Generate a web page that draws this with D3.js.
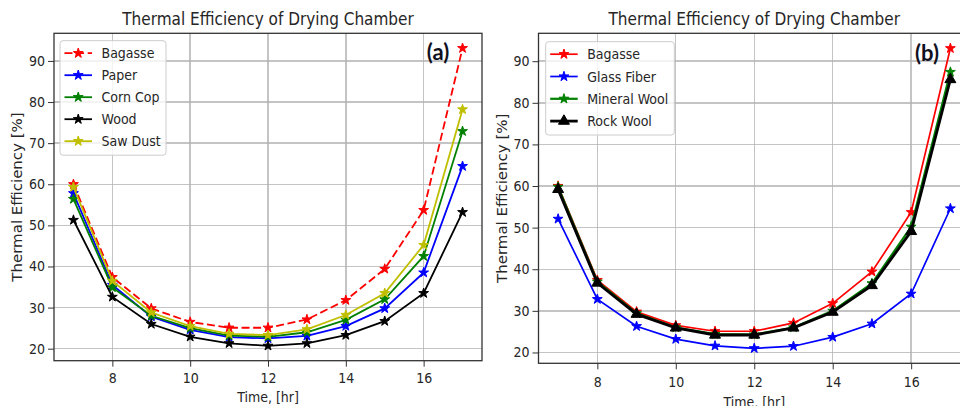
<!DOCTYPE html>
<html>
<head>
<meta charset="utf-8">
<title>Thermal Efficiency of Drying Chamber</title>
<style>
body { margin: 0; background: white; }
text { font-family: "DejaVu Sans", sans-serif; fill: #262626; }
.grid line { stroke: #b0b0b0; stroke-opacity: 0.75; stroke-width: 1.4; shape-rendering: crispEdges; }
.frame { fill: none; stroke: #333; stroke-width: 1.3; }
.legend rect { fill: white; fill-opacity: 0.8; stroke: #cccccc; stroke-width: 1; }
.tag { font-family: Lato, "Open Sans", sans-serif; font-weight: bold; fill: #10101e; }
</style>
</head>
<body>
<div id="chart"></div>
<script src="https://cdn.jsdelivr.net/npm/d3@7"></script>
<script>
var hours = [7, 8, 9, 10, 11, 12, 13, 14, 15, 16, 17];
var xTicks = [8, 10, 12, 14, 16];
var yTicks = [20, 30, 40, 50, 60, 70, 80, 90];

// panel (a) - drying material
var bagasse = [60.0, 37.4, 29.8, 26.5, 25.1, 25.1, 27.1, 31.8, 39.4, 53.7, 93.1];
var paper   = [57.8, 35.5, 27.8, 24.6, 22.8, 22.5, 23.1, 25.5, 29.8, 38.5, 64.4];
var cornCop = [56.4, 34.9, 28.0, 25.0, 23.2, 22.9, 24.0, 27.0, 32.0, 42.5, 72.9];
var wood    = [51.3, 32.6, 26.0, 22.9, 21.3, 20.7, 21.3, 23.3, 26.7, 33.5, 53.2];
var sawDust = [59.3, 36.5, 28.8, 25.5, 23.6, 23.3, 24.7, 28.2, 33.5, 45.2, 78.2];

// panel (b) - insulation
var glassFiber  = [52.1, 32.8, 26.3, 23.2, 21.6, 21.0, 21.5, 23.7, 26.9, 34.1, 54.6];
var mineralWool = [59.8, 37.0, 29.4, 26.0, 24.4, 24.3, 26.0, 30.0, 36.6, 50.2, 87.4];
var rockWool    = [59.2, 36.7, 29.2, 25.9, 24.2, 24.2, 25.9, 29.7, 36.1, 49.1, 85.6];

var titleText = "Thermal Efficiency of Drying Chamber";
var xLabel = "Time, [hr]";
var yLabel = "Thermal Efficiency [%]";

var SX = 0.9; // horizontal squeeze of the source picture

var svg = d3.select("#chart")
    .append("svg")
    .attr("width", 960)
    .attr("height", 406);

function padded(seriesList) {
    var all = d3.merge(seriesList);
    var lo = d3.min(all), hi = d3.max(all);
    var m = (hi - lo) * 0.05;
    return [lo - m, hi + m];
}

function hText(g, x, y, str, size, anchor) {
    return g.append("text")
        .attr("transform", "translate(" + x + "," + y + ") scale(" + SX + ",1)")
        .attr("font-size", size)
        .attr("text-anchor", anchor || "middle")
        .text(str);
}

function drawPanel(p) {
    var g = svg.append("g");
    var x = d3.scaleLinear().domain([6.5, 17.5]).range([p.left, p.right]);
    var y = d3.scaleLinear()
        .domain(padded(p.series.map(function(s) { return s.values; })))
        .range([p.bottom, p.top]);

    var grid = g.append("g").attr("class", "grid");
    grid.selectAll("line.v").data(xTicks).enter().append("line")
        .attr("class", "v")
        .attr("x1", function(d) { return x(d); })
        .attr("x2", function(d) { return x(d); })
        .attr("y1", p.top)
        .attr("y2", p.bottom);
    grid.selectAll("line.h").data(yTicks).enter().append("line")
        .attr("class", "h")
        .attr("x1", p.left)
        .attr("x2", p.right)
        .attr("y1", function(d) { return y(d); })
        .attr("y2", function(d) { return y(d); });

    var xaxis = g.append("g")
        .attr("transform", "translate(0," + p.bottom + ")")
        .style("color", "#333")
        .call(d3.axisBottom(x).tickValues(xTicks).tickSize(6).tickPadding(p.xpad));
    var yaxis = g.append("g")
        .attr("transform", "translate(" + p.left + ",0)")
        .style("color", "#333")
        .call(d3.axisLeft(y).tickValues(yTicks).tickSize(6).tickPadding(3));
    [xaxis, yaxis].forEach(function(a) {
        a.select(".domain").remove();
        a.attr("font-size", 14).attr("font-family", "DejaVu Sans");
        a.selectAll("text")
            .attr("fill", "#262626")
            .attr("transform", "scale(" + SX + ",1)");
    });
    yaxis.selectAll("text").attr("x", -9 / SX);

    g.append("rect")
        .attr("class", "frame")
        .attr("x", p.left)
        .attr("y", p.top)
        .attr("width", p.right - p.left)
        .attr("height", p.bottom - p.top);

    var line = d3.line()
        .x(function(d, i) { return x(hours[i]); })
        .y(function(d) { return y(d); });

    p.series.forEach(function(s) {
        var sg = g.append("g");
        sg.append("path")
            .attr("d", line(s.values))
            .attr("fill", "none")
            .attr("stroke", s.color)
            .attr("stroke-width", s.width)
            .attr("stroke-dasharray", s.dash || null);
        sg.selectAll("path.mark").data(s.values).enter().append("path")
            .attr("class", "mark")
            .attr("d", d3.symbol().type(s.symbol).size(s.size))
            .attr("transform", function(d, i) {
                return "translate(" + x(hours[i]) + "," + y(d) + ")";
            })
            .attr("fill", s.color)
            .attr("stroke", s.color)
            .attr("stroke-width", 1);
    });

    hText(g, (p.left + p.right) / 2, p.titleY, titleText, 17);
    hText(g, (p.left + p.right) / 2, p.xlabelY, xLabel, 14);
    g.append("text")
        .attr("transform", "translate(" + p.ylabelX + "," + ((p.top + p.bottom) / 2) + ") scale(" + SX + ",1) rotate(-90)")
        .attr("font-size", 15)
        .attr("text-anchor", "middle")
        .text(yLabel);

    g.append("text")
        .attr("class", "tag")
        .attr("x", p.tagX)
        .attr("y", p.tagY)
        .attr("font-size", 22)
        .attr("text-anchor", "middle")
        .text(p.tag);

    var lg = g.append("g").attr("class", "legend");
    lg.append("rect")
        .attr("x", p.legend.x)
        .attr("y", p.legend.y)
        .attr("width", p.legend.w)
        .attr("height", p.legend.h)
        .attr("rx", 3);
    p.series.forEach(function(s, i) {
        var cy = p.legend.y + 12.5 + i * p.legend.step;
        var hx0 = p.legend.x + 4.5, hx1 = hx0 + 27.5;
        lg.append("line")
            .attr("x1", hx0).attr("x2", hx1)
            .attr("y1", cy).attr("y2", cy)
            .attr("stroke", s.color)
            .attr("stroke-width", s.width)
            .attr("stroke-dasharray", s.dash || null);
        lg.append("path")
            .attr("d", d3.symbol().type(s.symbol).size(s.size))
            .attr("transform", "translate(" + ((hx0 + hx1) / 2) + "," + cy + ")")
            .attr("fill", s.color)
            .attr("stroke", s.color)
            .attr("stroke-width", 1);
        hText(lg, hx1 + 9.5, cy + 5, s.name, 14, "start");
    });
}

drawPanel({
    left: 54, right: 482, top: 33.3, bottom: 360.7,
    xpad: 6, titleY: 24.5, xlabelY: 402, ylabelX: 22, tag: "(a)", tagX: 438, tagY: 59.5,
    legend: { x: 60, y: 40.7, w: 106, h: 114.5, step: 22 },
    series: [
        { name: "Bagasse",  values: bagasse, color: "#ff0000", width: 1.8, dash: "8,3.6", symbol: d3.symbolStar, size: 30 },
        { name: "Paper",    values: paper,   color: "#0000ff", width: 1.8, symbol: d3.symbolStar, size: 30 },
        { name: "Corn Cop", values: cornCop, color: "#008000", width: 1.8, symbol: d3.symbolStar, size: 30 },
        { name: "Wood",     values: wood,    color: "#000000", width: 1.8, symbol: d3.symbolStar, size: 30 },
        { name: "Saw Dust", values: sawDust, color: "#bfbf00", width: 1.8, symbol: d3.symbolStar, size: 30 }
    ]
});

drawPanel({
    left: 538.5, right: 970, top: 33.3, bottom: 363.3,
    xpad: 8, titleY: 25.3, xlabelY: 407, ylabelX: 506.7, tag: "(b)", tagX: 927, tagY: 61,
    legend: { x: 545.7, y: 41.7, w: 128.6, h: 93.3, step: 22.3 },
    series: [
        { name: "Bagasse",      values: bagasse,     color: "#ff0000", width: 1.7, symbol: d3.symbolStar, size: 30 },
        { name: "Glass Fiber",  values: glassFiber,  color: "#0000ff", width: 1.7, symbol: d3.symbolStar, size: 30 },
        { name: "Mineral Wool", values: mineralWool, color: "#008000", width: 2.2, symbol: d3.symbolStar, size: 30 },
        { name: "Rock Wool",    values: rockWool,    color: "#000000", width: 2.8, symbol: d3.symbolTriangle, size: 52 }
    ]
});
</script>
</body>
</html>
